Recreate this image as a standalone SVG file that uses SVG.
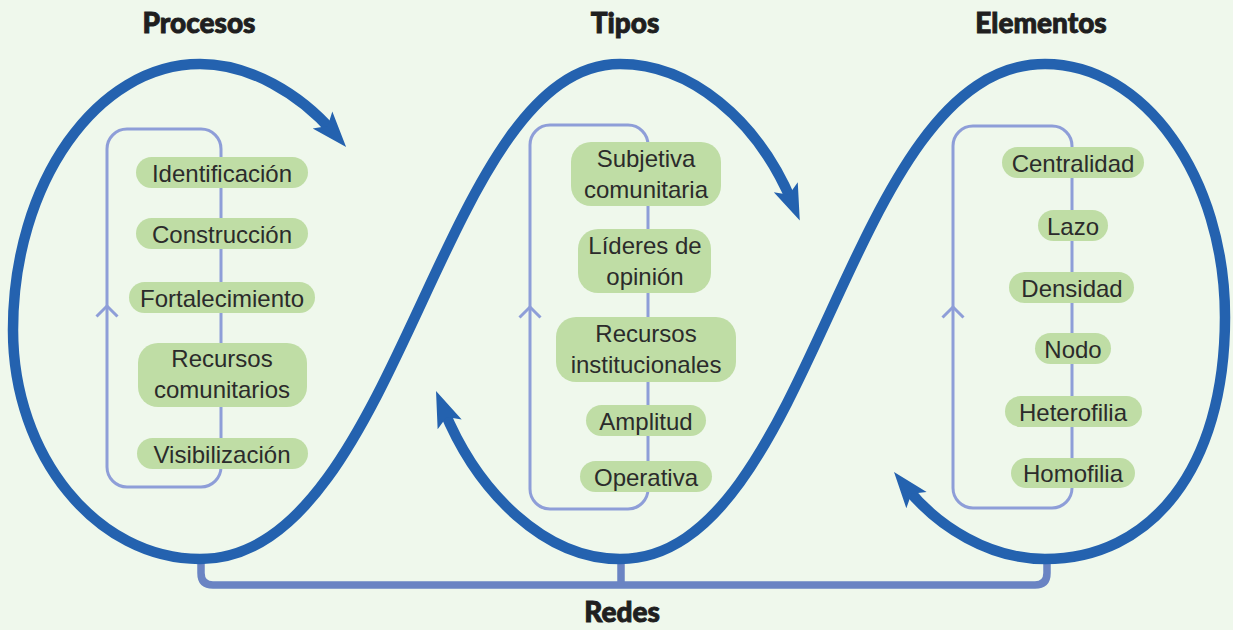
<svg xmlns="http://www.w3.org/2000/svg" width="1233" height="630" viewBox="0 0 1233 630">
<style>
.title{font-family:Lato,"Liberation Sans",sans-serif;font-weight:900;font-size:28px;fill:#1f1f1f;stroke:#1f1f1f;stroke-width:0.9;text-anchor:middle}
.pill{fill:#bfdda5}
.lbl{font-family:"Liberation Sans",Arial,sans-serif;font-size:24px;fill:#2b2b2b;text-anchor:middle}
.brk{fill:none;stroke:#8e9ed8;stroke-width:3}
.loop{fill:none;stroke:#2462af;stroke-width:10.5;marker-start:url(#ahs);marker-end:url(#ah)}
.conn{fill:none;stroke:#6a84c3;stroke-width:7.5}
</style>
<defs>
<marker id="ah" markerUnits="userSpaceOnUse" markerWidth="1" markerHeight="1" refX="0" refY="0" orient="auto" overflow="visible">
<path d="M20,0 L-16,-13 L-8,0 L-16,13 Z" fill="#2462af"/>
</marker>
<marker id="ahs" markerUnits="userSpaceOnUse" markerWidth="1" markerHeight="1" refX="0" refY="0" orient="auto-start-reverse" overflow="visible">
<path d="M20,0 L-16,-13 L-8,0 L-16,13 Z" fill="#2462af"/>
</marker>
</defs>
<rect width="1233" height="630" fill="#eff8ec"/>

<g id="connectors">
<path class="conn" d="M201,556 V573 Q201,585 213,585 H1035 Q1047,585 1047,573 V556"/>
<path class="conn" d="M621,556 V585"/>
<path class="loop" d="M333,132 C300,94 250,64 200,64 C97,64 13,183 13,330 C13,456 97,559 200,559 C400,559 440,64 620,64 C690,64 757,119 792,202"/>
<path class="loop" d="M443.6,409.5 C477.7,492.8 545,559 620,559 C815,559 845,64 1045,64 C1144,64 1225,177 1225,317 C1225,470 1150,559 1045,559 C990,559 938,527 906.5,487.6"/>
</g>

<g id="title-procesos"><text class="title" x="199" y="33">Procesos</text></g>
<g id="title-tipos"><text class="title" x="625" y="33">Tipos</text></g>
<g id="title-elementos"><text class="title" x="1041" y="33">Elementos</text></g>
<g id="title-redes"><text class="title" x="622" y="622">Redes</text></g>

<g id="bracket-procesos">
<rect class="brk" x="107" y="129" width="114" height="358" rx="20"/>
<polyline class="brk" points="96.5,316.5 107,306 117.5,316.5"/>
</g>
<g id="bracket-tipos">
<rect class="brk" x="530" y="125" width="118" height="384" rx="20"/>
<polyline class="brk" points="519.5,317.5 530,307 540.5,317.5"/>
</g>
<g id="bracket-elementos">
<rect class="brk" x="953" y="126" width="119" height="382" rx="20"/>
<polyline class="brk" points="942.5,317.5 953,307 963.5,317.5"/>
</g>

<g id="n-identificacion"><rect class="pill" x="136" y="157" width="172" height="31" rx="15.5"/><text class="lbl" x="222" y="181.5">Identificación</text></g>
<g id="n-construccion"><rect class="pill" x="136" y="218" width="172" height="31" rx="15.5"/><text class="lbl" x="222" y="242.5">Construcción</text></g>
<g id="n-fortalecimiento"><rect class="pill" x="129" y="282" width="186" height="31" rx="15.5"/><text class="lbl" x="222" y="306.5">Fortalecimiento</text></g>
<g id="n-recursos-comunitarios"><rect class="pill" x="138" y="343" width="169" height="64" rx="20"/><text class="lbl" x="222" y="367">Recursos</text><text class="lbl" x="222" y="398">comunitarios</text></g>
<g id="n-visibilizacion"><rect class="pill" x="137" y="438" width="171" height="31" rx="15.5"/><text class="lbl" x="222" y="462.5">Visibilización</text></g>

<g id="n-subjetiva"><rect class="pill" x="571" y="142" width="150" height="64" rx="20"/><text class="lbl" x="646" y="167">Subjetiva</text><text class="lbl" x="646" y="198">comunitaria</text></g>
<g id="n-lideres"><rect class="pill" x="578" y="229" width="133" height="64" rx="20"/><text class="lbl" x="645" y="254">Líderes de</text><text class="lbl" x="645" y="285">opinión</text></g>
<g id="n-recursos-institucionales"><rect class="pill" x="556" y="317" width="180" height="65" rx="20"/><text class="lbl" x="646" y="342">Recursos</text><text class="lbl" x="646" y="373">institucionales</text></g>
<g id="n-amplitud"><rect class="pill" x="586" y="405" width="120" height="31" rx="15.5"/><text class="lbl" x="646" y="429.5">Amplitud</text></g>
<g id="n-operativa"><rect class="pill" x="580" y="461" width="132" height="31" rx="15.5"/><text class="lbl" x="646" y="485.5">Operativa</text></g>

<g id="n-centralidad"><rect class="pill" x="1002" y="147" width="142" height="31" rx="15.5"/><text class="lbl" x="1073" y="171.5">Centralidad</text></g>
<g id="n-lazo"><rect class="pill" x="1038" y="210" width="70" height="31" rx="15.5"/><text class="lbl" x="1073" y="234.5">Lazo</text></g>
<g id="n-densidad"><rect class="pill" x="1009" y="272" width="125" height="31" rx="15.5"/><text class="lbl" x="1072" y="296.5">Densidad</text></g>
<g id="n-nodo"><rect class="pill" x="1035" y="333" width="76" height="31" rx="15.5"/><text class="lbl" x="1073" y="357.5">Nodo</text></g>
<g id="n-heterofilia"><rect class="pill" x="1005" y="396" width="137" height="31" rx="15.5"/><text class="lbl" x="1073" y="420.5">Heterofilia</text></g>
<g id="n-homofilia"><rect class="pill" x="1011" y="458" width="124" height="30" rx="15"/><text class="lbl" x="1073" y="482">Homofilia</text></g>
</svg>
